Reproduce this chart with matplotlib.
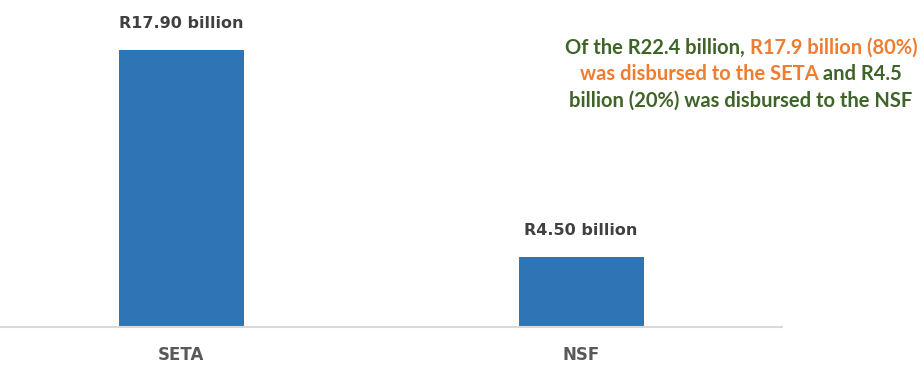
import numpy as np
import matplotlib.pyplot as plt

categories = ["SETA", "NSF"]
values = [17.90, 4.50]
value_labels = ["R17.90 billion", "R4.50 billion"]

GREEN = "#3f6428"
ORANGE = "#ed7d31"
note_lines = [
    [("Of the R22.4 billion, ", GREEN), ("R17.9 billion (80%)", ORANGE)],
    [("was disbursed to the SETA", ORANGE), (" and R4.5", GREEN)],
    [("billion (20%) was disbursed to the NSF", GREEN)],
]

fig = plt.figure(figsize=(9.24, 3.66), dpi=100)
ax = fig.add_axes([0, 0.1066, 782 / 924, 0.8456])

x = np.arange(len(categories))
ax.bar(x, values, width=0.3125, color="#2e75b6")
ax.set_xlim(-0.4525, 1.5025)
ax.set_ylim(0, 20)

for xi, v, lab in zip(x, values, value_labels):
    ax.annotate(lab, (xi, v), xytext=(0, 14), textcoords="offset points",
                ha="center", va="bottom", fontsize=11.5, fontweight="bold",
                color="#404040")

for s in ["top", "right", "left"]:
    ax.spines[s].set_visible(False)
ax.spines["bottom"].set_color("#d9d9d9")
ax.spines["bottom"].set_linewidth(1.5)
ax.set_yticks([])
ax.set_xticks(x)
ax.set_xticklabels(categories, fontsize=12, fontweight="bold", color="#595959")
ax.tick_params(axis="x", length=0, pad=14)

# multi-coloured note, each line centred
renderer = fig.canvas.get_renderer()
cx, y0, dy = 741 / 924, 1 - 48 / 366, 26.5 / 366
for i, line in enumerate(note_lines):
    y = y0 - i * dy
    parts = []
    for txt, col in line:
        t = fig.text(0, y, txt, color=col, fontsize=14.5, fontweight="bold",
                     family="Lato", va="center", ha="left")
        parts.append(t)
    widths = [p.get_window_extent(renderer).width / fig.bbox.width for p in parts]
    left = cx - sum(widths) / 2
    for p, w in zip(parts, widths):
        p.set_x(left)
        left += w

plt.savefig("out.png", dpi=100)
